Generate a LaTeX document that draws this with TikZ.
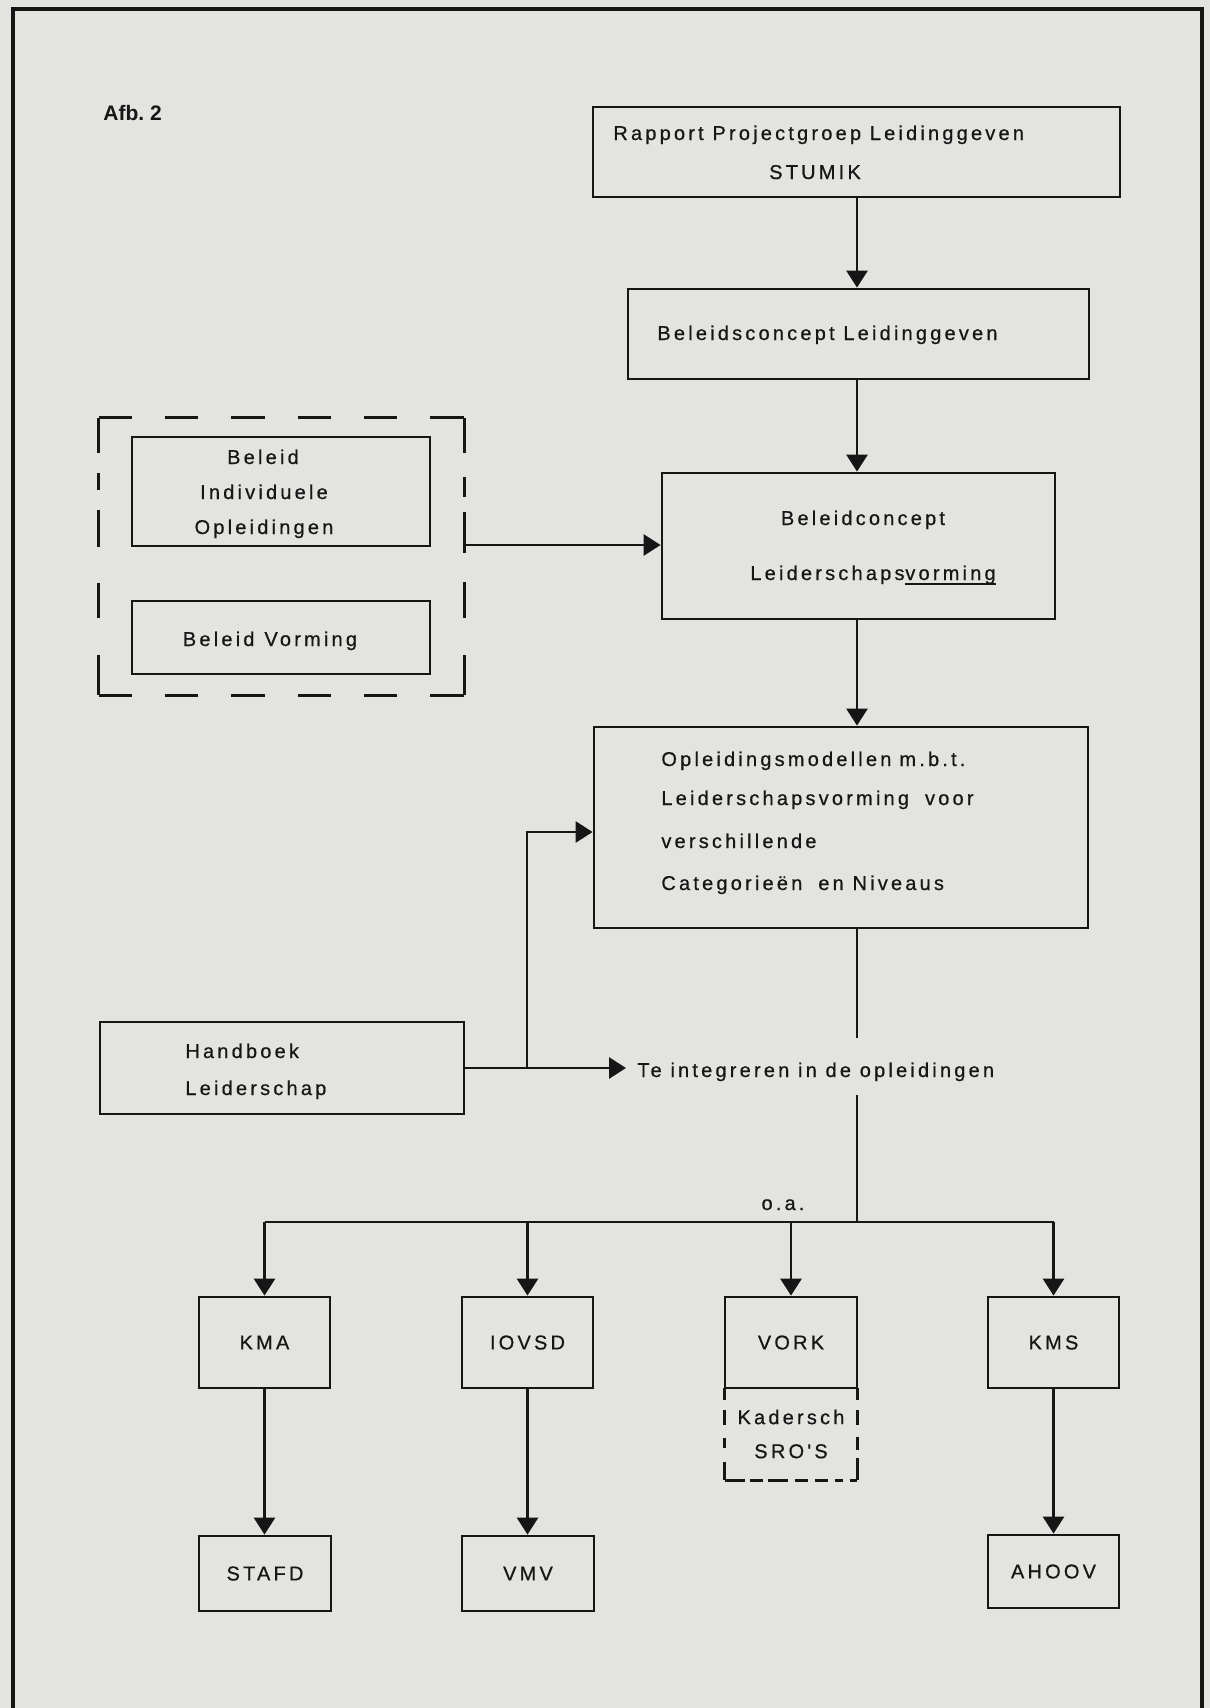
\documentclass[tikz,border=0pt]{standalone}
\usepackage{fontspec}
\setmainfont{Liberation Sans}
\newfontfamily\lett[LetterSpace=16,FakeBold=0.6]{Liberation Sans}
\usetikzlibrary{arrows.meta}
\definecolor{paper}{RGB}{227,227,224}
\definecolor{ink}{RGB}{22,22,22}
\begin{document}
\begin{tikzpicture}[x=0.5pt,y=-0.5pt,
  ln/.style={line width=1.4pt, draw=ink},
  arr/.style={ln, -{Triangle[width=10.5pt,length=8.5pt]}},
  bx/.style 2 args={ln, rectangle, inner sep=0pt, minimum width=#1, minimum height=#2},
  lt/.style={font=\lett\fontsize{10}{17}\selectfont, inner sep=0pt, text=ink},
  dsh/.style={line width=1.4pt, draw=ink},
]
\useasboundingbox (0,0) rectangle (1210,1708);
\fill[paper] (0,0) rectangle (1210,1708);

% frame
\draw[line width=1.7pt, draw=ink] (13,1708) -- (13,9) -- (1202,9) -- (1202,1708);

\node[font=\bfseries\fontsize{10.5}{12}\selectfont, text=ink, inner sep=0pt, anchor=base west] (afb) at (103,120) {Afb.~2};

% spine
\coordinate (sp) at (857,0);

% top boxes
\node[bx={263.5pt}{45pt}] (rap) at (856.5,152) {};
\node[lt, anchor=base west] (t1) at (613,140) {Rapport Projectgroep Leidinggeven};
\node[lt, anchor=base] (t2) at (815,179) {STUMIK};

\node[bx={230.5pt}{45pt}] (bl) at (858.5,334) {};
\node[lt, anchor=base west] (t3) at (657,340) {Beleidsconcept Leidinggeven};

\node[bx={196.5pt}{73pt}] (bc) at (858.5,546) {};
\node[lt, anchor=base] (t4) at (863,525) {Beleidconcept};
\node[lt, anchor=base west] (t5a) at (750,580) {Leiderschaps};
\node[lt, anchor=base west] (t5b) at (t5a.base east) {vorming};
\draw[line width=0.9pt, draw=ink] ([yshift=-2pt]t5b.base west) -- ([yshift=-2pt]t5b.base east);

\draw[arr] (rap.south -| sp) -- (bl.north -| sp);
\draw[arr] (bl.south -| sp) -- (bc.north -| sp);

% dashed group
\node[rectangle, inner sep=0pt, minimum width=182.5pt, minimum height=138.5pt] (dbx) at (281.5,556.5) {};
\draw[dsh, dash pattern=on 16.59pt off 16.59pt] (dbx.north west) -- (dbx.north east);
\draw[dsh, dash pattern=on 16.59pt off 16.59pt] (dbx.south west) -- (dbx.south east);
\draw[dsh, dash pattern=on 17.5pt off 10pt on 8.5pt off 10pt on 18.5pt off 18pt on 17.5pt off 18.5pt on 20pt off 10pt] (dbx.north west) -- (dbx.south west);
\draw[dsh, dash pattern=on 17.5pt off 12pt on 10pt off 7.5pt on 20.5pt off 14.5pt on 18pt off 18.5pt on 20pt off 10pt] (dbx.north east) -- (dbx.south east);

\node[bx={149pt}{54.5pt}] (ind) at (281,491.5) {};
\node[lt, anchor=base] (t6) at (263,464) {Beleid};
\node[lt, anchor=base] (t7) at (264,499) {Individuele};
\node[lt, anchor=base] (t8) at (264,534) {Opleidingen};

\node[bx={149pt}{36.5pt}] (bv) at (281,637.5) {};
\node[lt, anchor=base] (t9) at (270,646) {Beleid\hspace{5pt}Vorming};

\coordinate (a1) at (464,545);
\draw[arr] (dbx.east |- a1) -- (bc.west |- a1);

% opleidingsmodellen
\node[bx={247pt}{100.5pt}] (opm) at (841,827.5) {};
\node[lt, anchor=base west] (t10) at (661,766) {Opleidingsmodellen\hspace{4pt}m.b.t.};
\node[lt, anchor=base west] (t11) at (661,805) {Leiderschapsvorming\hspace{8pt}voor};
\node[lt, anchor=base west] (t12) at (661,848) {verschillende};
\node[lt, anchor=base west] (t13) at (661,890) {Categorieën\hspace{8pt}en Niveaus};

\draw[arr] (bc.south -| sp) -- (opm.north -| sp);

% handboek
\node[bx={182pt}{46pt}] (hb) at (282,1068) {};
\node[lt, anchor=base west] (t14) at (185,1058) {Handboek};
\node[lt, anchor=base west] (t15) at (185,1095) {Leiderschap};

\node[lt, anchor=base west, inner xsep=5.5pt] (te) at (626,1077) {Te integreren in de opleidingen};
\draw[arr] (hb.east) -- (hb.east -| te.west);
\coordinate (j1) at (527,1068);
\coordinate (a2) at (527,832);
\draw[arr] (j1) -- (a2) -- (a2 -| opm.west);

\coordinate (c1) at (857,1038);
\coordinate (c2) at (857,1095);
\coordinate (br) at (857,1222);
\draw[ln] (opm.south -| c1) -- (c1);
\draw[ln] (c2) -- (br);
\node[lt, anchor=base] (oa) at (783,1210) {o.a.};

% bottom boxes
\node[bx={65.5pt}{45.5pt}, lt] (kma) at (264.5,1342.5) {KMA};
\node[bx={65.5pt}{45.5pt}, lt] (iov) at (527.5,1342.5) {IOVSD};
\node[bx={66pt}{45.5pt}, lt] (vork) at (791,1342.5) {VORK};
\node[bx={65.5pt}{45.5pt}, lt] (kms) at (1053.5,1342.5) {KMS};
\node[bx={66pt}{37.5pt}, lt] (staf) at (265,1573.5) {STAFD};
\node[bx={66pt}{37.5pt}, lt] (vmv) at (528,1573.5) {VMV};
\node[bx={65.5pt}{36.5pt}, lt] (ahoov) at (1053.5,1571.5) {AHOOV};

\node[lt, rectangle, minimum width=66pt, minimum height=46pt, align=center] (kad) at (791,1434) {Kadersch\\S\,RO'S};
\draw[dsh, dash pattern=on 6pt off 5pt on 7.5pt off 6.5pt on 5pt off 7pt on 9pt off 5pt] (kad.north west) -- (kad.south west);
\draw[dsh, dash pattern=on 6pt off 5pt on 7.5pt off 6pt on 6.5pt off 4pt on 11pt off 5pt] (kad.north east) -- (kad.south east);
\draw[dsh, dash pattern=on 10pt off 2.5pt on 6.5pt off 2.5pt on 10pt off 3.5pt on 6.5pt off 3.5pt on 6.5pt off 3.5pt on 4pt off 3.5pt on 3.5pt off 3pt] (kad.south west) -- (kad.south east);

\draw[ln] (kma.north |- br) -- (kms.north |- br);
\draw[arr] (kma.north |- br) -- (kma.north);
\draw[arr] (iov.north |- br) -- (iov.north);
\draw[arr] (vork.north |- br) -- (vork.north);
\draw[arr] (kms.north |- br) -- (kms.north);

\draw[arr] (kma.south) -- (kma.south |- staf.north);
\draw[arr] (iov.south) -- (iov.south |- vmv.north);
\draw[arr] (kms.south) -- (kms.south |- ahoov.north);
\end{tikzpicture}
\end{document}
